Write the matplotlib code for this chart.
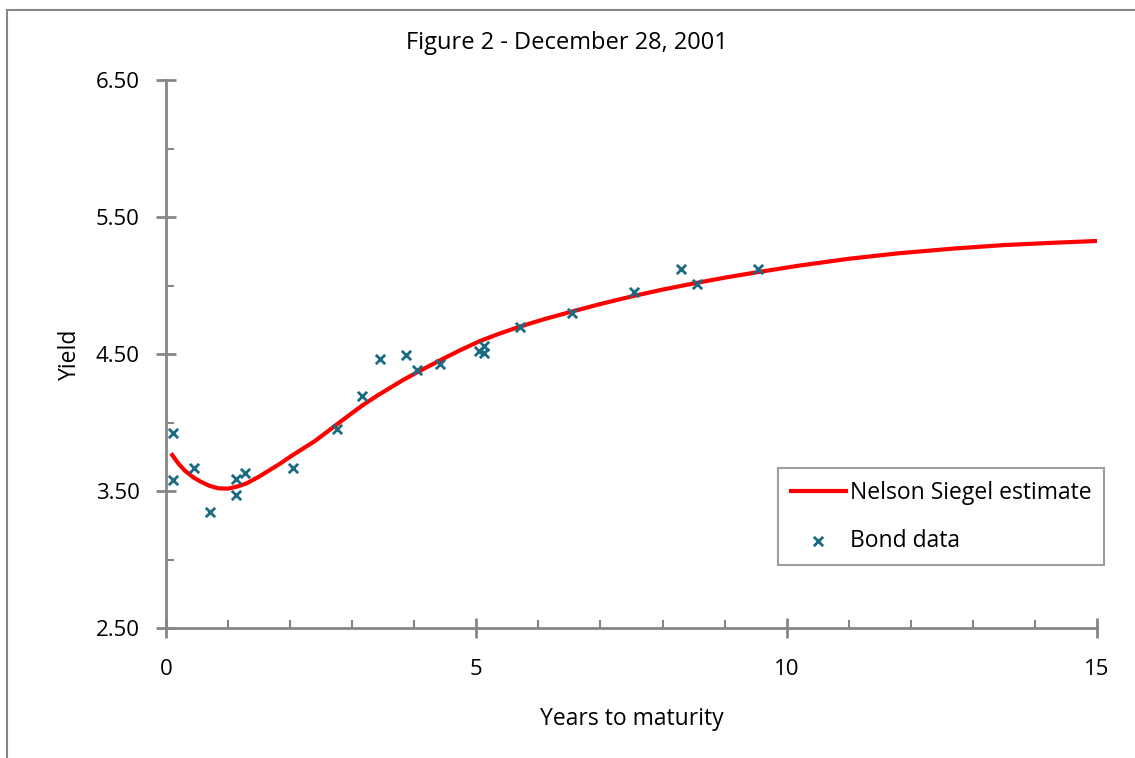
import numpy as np
import matplotlib
matplotlib.use('Agg')
import matplotlib.pyplot as plt
from matplotlib.patches import Rectangle
from matplotlib.ticker import MultipleLocator, FixedLocator, FormatStrFormatter

# bond observations (years to maturity, yield)
bond_maturity = [0.12, 0.12, 0.45, 0.71, 1.12, 1.12, 1.28, 2.04, 2.75, 3.16,
                 3.45, 3.87, 4.04, 4.42, 5.04, 5.13, 5.13, 5.71, 6.54, 7.54,
                 8.30, 8.55, 9.54]
bond_yield = [3.92, 3.58, 3.67, 3.35, 3.59, 3.47, 3.63, 3.67, 3.95, 4.19,
              4.46, 4.49, 4.38, 4.43, 4.52, 4.56, 4.51, 4.70, 4.80, 4.95,
              5.12, 5.01, 5.12]

# fitted curve
ns_maturity = [0.1, 0.2, 0.3, 0.44, 0.55, 0.7, 0.84, 1.0, 1.15, 1.3, 1.5,
               1.84, 2.0, 2.4, 2.75, 3.0, 3.18, 3.4, 3.6, 3.8, 4.04,
               4.42, 4.75, 5.06, 5.35, 5.7, 6.1, 6.5, 7.0, 7.5, 8.0, 8.5, 9.0,
               9.5, 10.2, 11.0, 11.8, 12.7, 13.5, 14.3, 15.0]
ns_yield = [3.763, 3.70, 3.65, 3.60, 3.57, 3.538, 3.52, 3.517, 3.533,
            3.556, 3.605, 3.70, 3.75, 3.865, 3.985, 4.07, 4.13, 4.195, 4.25,
            4.305, 4.365, 4.455, 4.53, 4.595, 4.645, 4.70, 4.755, 4.805,
            4.865, 4.92, 4.97, 5.015, 5.057, 5.095, 5.145, 5.195, 5.235, 5.27,
            5.295, 5.312, 5.325]

y_major = [2.5, 3.5, 4.5, 5.5, 6.5]
y_minor = [3.0, 4.0, 5.0, 6.0]

plt.rcParams['font.family'] = ['Open Sans', 'DejaVu Sans']
axis_grey = '#868686'

fig = plt.figure(figsize=(11.35, 7.58), dpi=100)
ax = fig.add_axes([166/1135, 1 - 628/758, (1097 - 166)/1135, (628 - 80)/758])

ax.plot(ns_maturity, ns_yield, color='#FF0000', lw=3, label='Nelson Siegel estimate',
        solid_joinstyle='round')
ax.scatter(bond_maturity, bond_yield, marker='x', s=45, linewidths=2,
           color='#1A6A82', label='Bond data', zorder=3)

ax.set_xlim(0, 15)
ax.set_ylim(2.5, 6.5)
ax.xaxis.set_major_locator(MultipleLocator(5))
ax.xaxis.set_minor_locator(MultipleLocator(1))
ax.yaxis.set_major_locator(FixedLocator(y_major))
ax.yaxis.set_minor_locator(FixedLocator(y_minor))
ax.yaxis.set_major_formatter(FormatStrFormatter('%.2f'))

for s in ['top', 'right']:
    ax.spines[s].set_visible(False)
for s in ['left', 'bottom']:
    ax.spines[s].set_color(axis_grey)
    ax.spines[s].set_linewidth(2)

ax.tick_params(which='major', direction='inout', length=14, width=2,
               color=axis_grey, labelsize=16, labelcolor='black')
ax.tick_params(axis='x', which='major', pad=15)
ax.tick_params(axis='y', which='major', pad=12)
ax.tick_params(which='minor', direction='in', length=6, width=1.5, color=axis_grey)

ax.set_xlabel('Years to maturity', fontsize=16.5, labelpad=20)
ax.set_ylabel('Yield', fontsize=16.5, labelpad=10)
fig.text(567/1135, 1 - 43/758, 'Figure 2 - December 28, 2001', ha='center',
         va='center', fontsize=17)

leg = ax.legend(loc='upper left', bbox_to_anchor=((778 - 166)/931, 1 - (468 - 80)/548),
                fontsize=16.5, frameon=True, fancybox=False, handlelength=2.4,
                borderpad=0.55, labelspacing=1.05, handletextpad=0.2,
                borderaxespad=0)
leg.get_frame().set_edgecolor(axis_grey)
leg.get_frame().set_linewidth(1.5)

# outer chart border (cut at right and bottom)
fig.patches.append(Rectangle((7/1135, -0.1), 1.2, 1.1 - 10/758, transform=fig.transFigure,
                             fill=False, edgecolor=axis_grey, lw=1.5))

fig.savefig('out.png', dpi=100)
